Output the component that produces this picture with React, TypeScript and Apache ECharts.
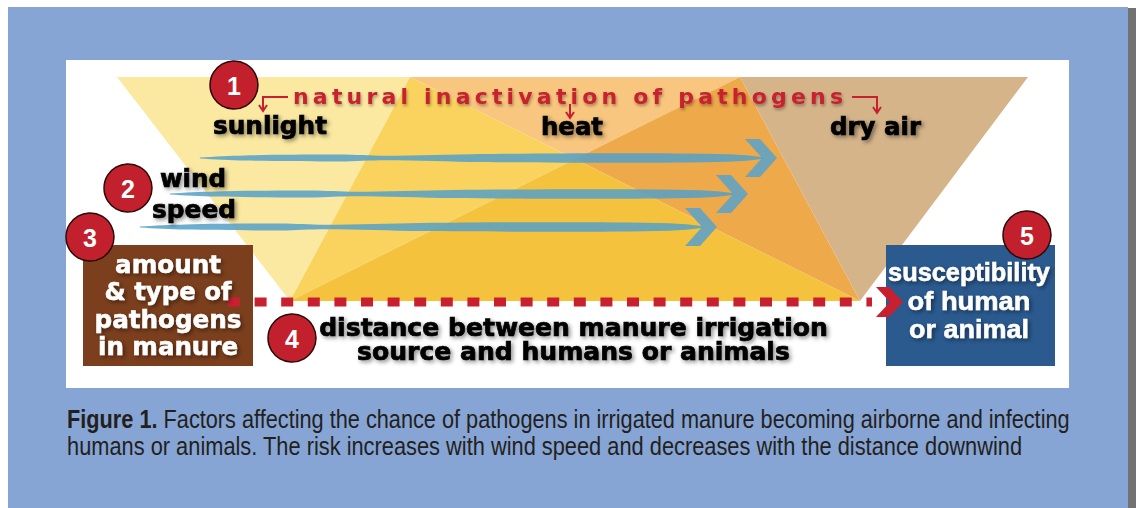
import { useEffect, useRef } from 'react';
import * as echarts from 'echarts';

// ---------- content / geometry tables ----------
const REGION_COLORS = ['#FBE9A2', '#FAD35E', '#F8C67E', '#EEA94B', '#F5C23D', '#D5B48A'];
const REGION_POINTS = [
  [[117, 77], [410, 77], [290, 301]],
  [[410, 77], [575, 159], [290, 301]],
  [[410, 77], [740, 77], [575, 159]],
  [[740, 77], [860, 301], [575, 159]],
  [[290, 301], [575, 159], [860, 301]],
  [[740, 77], [1028, 77], [860, 301]],
];

const WIND_Y = [158, 194, 227];
const WIND_START = [200, 170, 140];
const WIND_TIP = [777, 748, 717];
const SHAFT_T = [0, 0.08, 0.25, 0.33, 0.5, 0.75, 0.94, 1];
const SHAFT_HW = [0.5, 2.6, 3.4, 2.2, 4.0, 4.8, 3.8, 0.8];

const TITLE = 'natural inactivation of pathogens';
const TITLE_SPAN = [293, 843];
const TITLE_Y = 96;

const LABELS = ['sunlight', 'heat', 'dry air', 'wind', 'speed'];
const LABEL_X = [270, 572, 875.5, 193, 194];
const LABEL_Y = [126, 127, 127, 179, 210];
const LABEL_W = [114, 62, 91, 66, 84];

const DIST_LINES = ['distance between manure irrigation', 'source and humans or animals'];
const DIST_X = [573.5, 573.5];
const DIST_Y = [328, 352];
const DIST_W = [509, 433];

const SOURCE_LINES = ['amount', '& type of', 'pathogens', 'in manure'];
const SOURCE_Y = [265, 292, 320, 347];
const SOURCE_W = [106, 127, 147, 140];

const TARGET_LINES = ['susceptibility', 'of human', 'or animal'];
const TARGET_Y = [272, 301, 329];
const TARGET_W = [162, 123, 120];

const BADGES = ['1', '2', '3', '4', '5'];
const BADGE_POS = [[234, 85], [128, 188], [90, 237], [292, 338], [1027, 235]];

const CAPTION_BOLD = 'Figure 1.';
const CAPTION_1 = ' Factors affecting the chance of pathogens in irrigated manure becoming airborne and infecting';
const CAPTION_2 = 'humans or animals. The risk increases with wind speed and decreases with the distance downwind';
const CAPTION_W = [1003, 956];
const CAPTION_Y = [419, 446];

const RED = '#C8202F';
const HEAVY = "'DejaVu Sans'";
const ARIAL = "'Liberation Sans'";

export default function App() {
  const ref = useRef<HTMLDivElement>(null);

  useEffect(() => {
    if (!ref.current) return;
    const chart = echarts.init(ref.current, null, { renderer: 'svg' });
    const ctx = document.createElement('canvas').getContext('2d')!;
    const measure = (t: string, font: string) => {
      ctx.font = font;
      return ctx.measureText(t).width;
    };

    const els: any[] = [];
    // page background & panel
    els.push({ type: 'rect', shape: { x: 0, y: 0, width: 1136, height: 508 }, style: { fill: '#ffffff' }, silent: true });
    els.push({ type: 'rect', shape: { x: 8, y: 7, width: 1120, height: 501 }, style: { fill: '#86A5D4' } });
    els.push({ type: 'rect', shape: { x: 1128, y: 8, width: 8, height: 500 }, style: { fill: '#727272' } });
    els.push({ type: 'rect', shape: { x: 66, y: 60, width: 1003, height: 328 }, style: { fill: '#ffffff' } });

    // colored regions
    REGION_POINTS.forEach((pts, i) => {
      els.push({ type: 'polygon', shape: { points: pts }, style: { fill: REGION_COLORS[i] } });
    });

    // wind arrows
    WIND_Y.forEach((y, i) => {
      const x0 = WIND_START[i];
      const tip = WIND_TIP[i];
      const x1 = tip - 14;
      const top = SHAFT_T.map((t, k) => [x0 + (x1 - x0) * t, y - SHAFT_HW[k]]);
      const bot = SHAFT_T.map((t, k) => [x0 + (x1 - x0) * t, y + SHAFT_HW[k]]).reverse();
      els.push({ type: 'polygon', shape: { points: [...top, ...bot], smooth: 0.3 }, style: { fill: 'rgba(84,160,200,0.85)' } });
      els.push({
        type: 'polygon',
        shape: { points: [[tip - 32, y - 19], [tip - 17, y - 19], [tip, y], [tip - 17, y + 19], [tip - 32, y + 19], [tip - 15, y]] },
        style: { fill: 'rgba(96,162,196,0.9)' },
      });
    });

    // brown source box
    els.push({ type: 'rect', shape: { x: 83, y: 245, width: 170, height: 121 }, style: { fill: '#7B3F1D' } });
    // blue target box
    els.push({ type: 'rect', shape: { x: 886, y: 245, width: 169, height: 121 }, style: { fill: '#2B5A8F' } });

    // dotted distance line + chevron
    els.push({ type: 'line', shape: { x1: 228, y1: 302, x2: 872, y2: 302 }, style: { stroke: RED, lineWidth: 9, lineDash: [12, 14.6] } });
    els.push({ type: 'polygon', shape: { points: [[876, 287], [889, 287], [903, 302], [889, 317], [876, 317], [890, 302]] }, style: { fill: RED } });

    // red bracket arrows
    const redLine = (pts: number[][]) => ({ type: 'polyline', shape: { points: pts }, style: { stroke: RED, lineWidth: 2, fill: null } });
    els.push(redLine([[288, 97], [263, 97], [263, 110]]));
    els.push(redLine([[259, 105], [263, 111], [267, 105]]));
    els.push(redLine([[852, 97], [877, 97], [877, 112]]));
    els.push(redLine([[873, 107], [877, 113], [881, 107]]));
    els.push(redLine([[570, 104], [570, 117]]));
    els.push(redLine([[566, 112], [570, 118], [574, 112]]));

    // letter-spaced title
    const titleFont = `bold 22px ${HEAVY}`;
    const chars = TITLE.split('');
    const cw = chars.map((c) => measure(c, titleFont));
    const total = cw.reduce((a, b) => a + b, 0);
    const gap = (TITLE_SPAN[1] - TITLE_SPAN[0] - total) / (chars.length - 1);
    let cx = TITLE_SPAN[0];
    chars.forEach((c, k) => {
      if (c !== ' ') {
        els.push({
          type: 'text', x: cx, y: TITLE_Y,
          style: { text: c, font: titleFont, fill: RED,
            textAlign: 'left', textVerticalAlign: 'middle', align: 'left', verticalAlign: 'middle',
            textShadowColor: 'rgba(0,0,0,0.35)', textShadowBlur: 3, textShadowOffsetX: 1, textShadowOffsetY: 2 },
        });
      }
      cx += cw[k] + gap;
    });

    const fitText = (text: string, font: string, x: number, y: number, w: number, fill: string, sw: number) => {
      const sx = w / measure(text, font);
      return {
        type: 'text', x, y, scaleX: sx,
        style: { text, font, fill, stroke: fill, lineWidth: sw,
          textAlign: 'center', textVerticalAlign: 'middle', align: 'center', verticalAlign: 'middle',
          textShadowColor: 'rgba(0,0,0,0.45)', textShadowBlur: 4, textShadowOffsetX: 2, textShadowOffsetY: 2 },
      };
    };

    LABELS.forEach((t, i) => els.push(fitText(t, `bold 24px ${HEAVY}`, LABEL_X[i], LABEL_Y[i], LABEL_W[i], '#000000', 0.7)));
    DIST_LINES.forEach((t, i) => els.push(fitText(t, `bold 24px ${HEAVY}`, DIST_X[i], DIST_Y[i], DIST_W[i], '#000000', 0.7)));
    SOURCE_LINES.forEach((t, i) => els.push(fitText(t, `bold 24px ${HEAVY}`, 168, SOURCE_Y[i], SOURCE_W[i], '#ffffff', 0.5)));
    TARGET_LINES.forEach((t, i) => els.push(fitText(t, `bold 25px ${ARIAL}`, 969, TARGET_Y[i], TARGET_W[i], '#ffffff', 0.5)));

    // numbered badges
    BADGE_POS.forEach(([bx, by], i) => {
      els.push({ type: 'circle', shape: { cx: bx, cy: by, r: 24 }, style: { fill: '#C2202C', stroke: '#2A0A0A', lineWidth: 1.5 } });
      els.push({
        type: 'text', x: bx, y: by + 1,
        style: { text: BADGES[i], font: `bold 25px ${ARIAL}`, fill: '#ffffff', textAlign: 'center', textVerticalAlign: 'middle', align: 'center', verticalAlign: 'middle' },
      });
    });

    // caption
    const capFont = `25px ${ARIAL}`;
    const capBold = `bold 25px ${ARIAL}`;
    const w1 = measure(CAPTION_BOLD, capBold) + measure(CAPTION_1, capFont);
    const w2 = measure(CAPTION_2, capFont);
    els.push({
      type: 'text', x: 67, y: CAPTION_Y[0], scaleX: CAPTION_W[0] / w1,
      style: { text: `{b|${CAPTION_BOLD}}${CAPTION_1}`, font: capFont, fill: '#231F20', textAlign: 'left', textVerticalAlign: 'middle', align: 'left', verticalAlign: 'middle',
        rich: { b: { font: capBold, fill: '#231F20' } } },
    });
    els.push({
      type: 'text', x: 67, y: CAPTION_Y[1], scaleX: CAPTION_W[1] / w2,
      style: { text: CAPTION_2, font: capFont, fill: '#231F20', textAlign: 'left', textVerticalAlign: 'middle', align: 'left', verticalAlign: 'middle' },
    });

    chart.setOption({ animation: false, graphic: { elements: els } });
    return () => chart.dispose();
  }, []);

  return <div ref={ref} style={{ position: 'absolute', left: 0, top: 0, width: 1136, height: 508 }} />;
}
